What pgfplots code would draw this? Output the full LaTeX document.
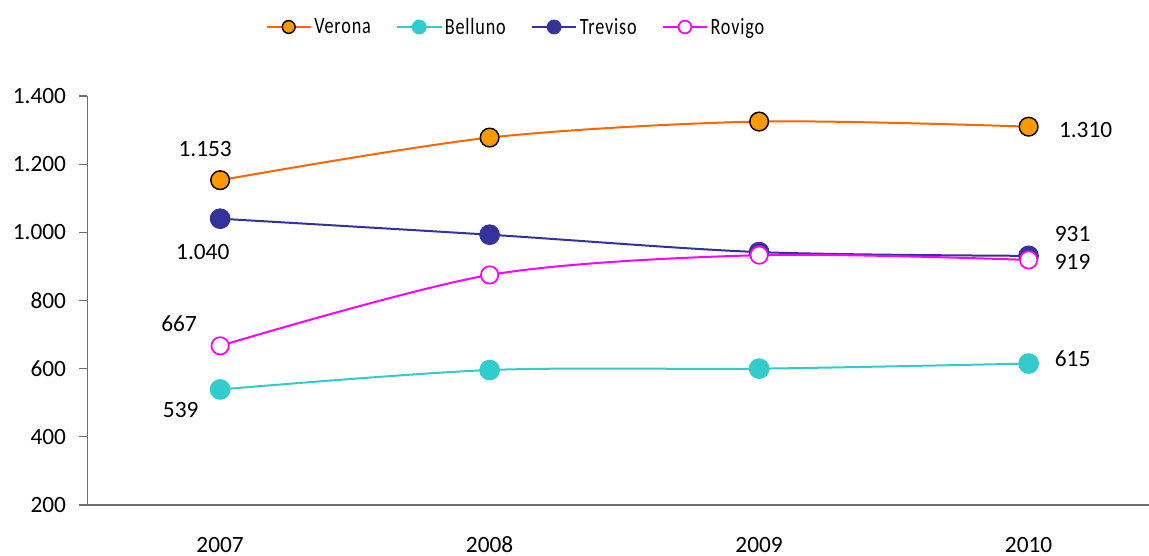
\documentclass[border=0pt]{standalone}
\usepackage{fontspec}
\setmainfont{Carlito}
\newfontfamily\legendfont[FakeStretch=0.78, LetterSpace=3.5]{Carlito}
\usepackage{pgfplots}
\pgfplotsset{compat=1.18}
\definecolor{veronaLine}{HTML}{FF6600}
\definecolor{veronaFill}{HTML}{FF9900}
\definecolor{belluno}{HTML}{33CCCC}
\definecolor{treviso}{HTML}{333399}
\definecolor{rovigo}{HTML}{FF00FF}
\definecolor{axisgray}{HTML}{6E6E6E}
\begin{document}
\begin{tikzpicture}
\useasboundingbox (0,0) rectangle (861.75pt,417pt);
\begin{axis}[
  at={(65.5pt,38.25pt)}, anchor=south west,
  width=796.3pt, height=306.75pt, scale only axis,
  xmin=-0.4928, xmax=3.447, ymin=200, ymax=1400,
  axis x line=bottom, axis y line=left,
  axis line style={-, draw=axisgray, line width=0.9pt},
  xtick={0,1,2,3}, xticklabels={2007,2008,2009,2010},
  xtick style={draw=none},
  ytick={200,400,...,1400},
  ytick style={draw=axisgray, line width=0.9pt},
  tick align=outside, major tick length=6pt,
  /pgf/number format/assume math mode=true,
  /pgf/number format/.cd, 1000 sep={.}, use comma=false, /pgfplots/.cd,
  ticklabel style={font=\fontsize{17.5}{21}\selectfont, text=black},
  xticklabel style={anchor=base, yshift=-29.5pt, inner sep=0pt},
  yticklabel style={anchor=east, inner sep=0pt, xshift=-9.75pt},
  clip=false,
  legend columns=4,
  legend style={at={(0.404,1.1687)}, anchor=center, draw=none, fill=none,
    font=\legendfont\fontsize{17.5}{20}\selectfont,
    /tikz/every even column/.append style={column sep=17pt}},
  legend image code/.code={\draw[mark repeat=2,mark phase=2,#1, mark size=4.8pt] plot coordinates {(0pt,0pt)(16.5pt,0pt)(33pt,0pt)};},
  every axis plot/.append style={line width=1.5pt, smooth, tension=0.5},
]
\addplot[color=veronaLine, mark=*, mark size=7pt, mark options={fill=veronaFill, draw=black, line width=1.1pt}]
  coordinates {(0,1153) (1,1278) (2,1325) (3,1310)};
\addlegendentry{Verona}
\addplot[color=belluno, mark=*, mark size=7pt, mark options={fill=belluno, draw=belluno}]
  coordinates {(0,539) (1,596) (2,600) (3,615)};
\addlegendentry{Belluno}
\addplot[color=treviso, mark=*, mark size=7pt, mark options={fill=treviso, draw=treviso}]
  coordinates {(0,1040) (1,993) (2,942) (3,931)};
\addlegendentry{Treviso}
\addplot[color=rovigo, mark=*, mark size=6.5pt, mark options={fill=white, draw=rovigo, line width=1.3pt}]
  coordinates {(0,667) (1,875) (2,933) (3,919)};
\addlegendentry{Rovigo}

\begin{scope}[every node/.style={font=\fontsize{17.5}{21}\selectfont, inner sep=0pt}]
\node[xshift=-11.25pt, yshift=23.25pt] at (axis cs:0,1153) {1.153};
\node[xshift=42.75pt, yshift=-2.25pt] at (axis cs:3,1310) {1.310};
\node[xshift=-13pt, yshift=-24.75pt] at (axis cs:0,1040) {1.040};
\node[xshift=33pt, yshift=16.4pt] at (axis cs:3,931) {931};
\node[xshift=33pt, yshift=-1.3pt] at (axis cs:3,919) {919};
\node[xshift=33pt, yshift=3.9pt] at (axis cs:3,615) {615};
\node[xshift=-30.75pt, yshift=16.9pt] at (axis cs:0,667) {667};
\node[xshift=-29.6pt, yshift=-15.5pt] at (axis cs:0,539) {539};
\end{scope}
\end{axis}
\end{tikzpicture}
\end{document}
